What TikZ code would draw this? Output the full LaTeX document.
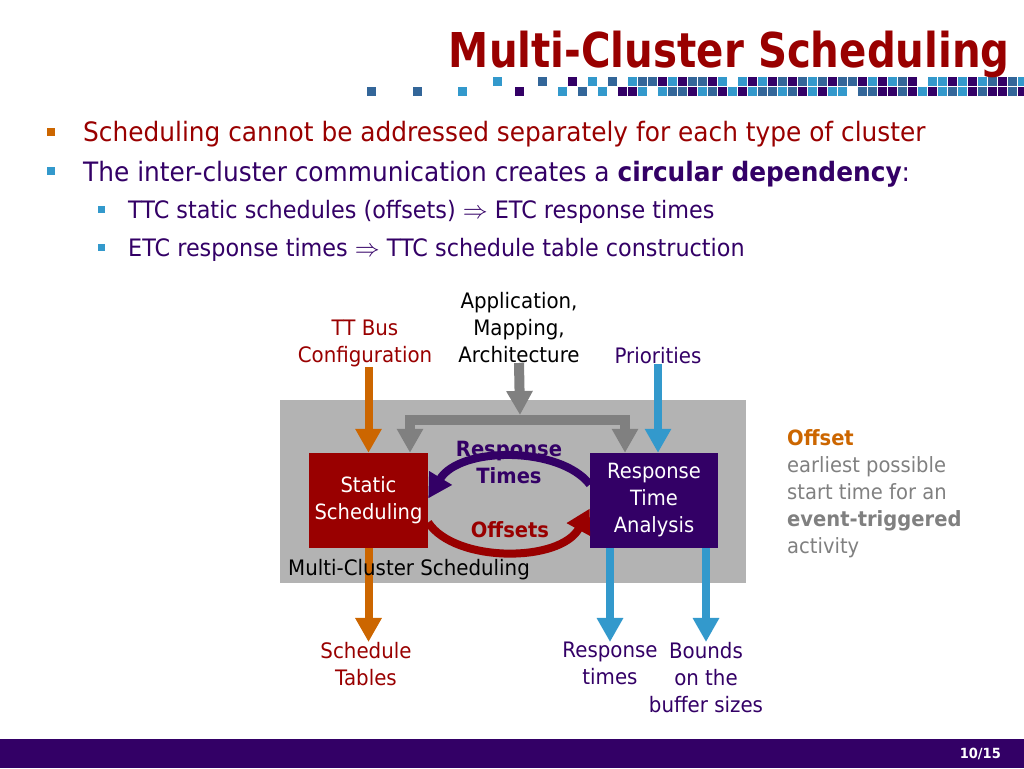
\documentclass[tikz,border=0pt]{standalone}
\usepackage{fontspec}
\setmainfont{DejaVu Sans}[FakeStretch=0.93]
\newfontfamily\titlefont{DejaVu Sans}[FakeStretch=0.84]
\usetikzlibrary{arrows.meta, positioning}

\definecolor{darkred}{HTML}{990000}
\definecolor{deeppurple}{HTML}{330066}
\definecolor{burntorange}{HTML}{CC6600}
\definecolor{skyblue}{HTML}{3399CC}
\definecolor{steelblue}{HTML}{336699}
\definecolor{midgray}{HTML}{808080}
\definecolor{boxgray}{HTML}{B3B3B3}
\colorlet{sq1}{steelblue}
\colorlet{sq2}{skyblue}
\colorlet{sq3}{deeppurple}

\begin{document}
\begin{tikzpicture}[x=1pt,y=1pt,
	fat/.style={line width=8pt,-{Triangle[width=25pt,length=24pt]}},
	block/.style={minimum width=#1,minimum height=95pt,inner sep=0pt,align=center,text=white,font=\fontsize{21}{27}\selectfont},
	lbl/.style={align=center,inner sep=0pt,font=\fontsize{21.3}{27}\selectfont},
	body/.style={anchor=base west,inner sep=0pt,font=\fontsize{26.7}{30}\selectfont},
	sub/.style={anchor=base west,inner sep=0pt,font=\fontsize{24}{28}\selectfont,text=deeppurple},
	loop/.style={inner sep=0pt,align=center,font=\bfseries\fontsize{21}{27}\selectfont}]
	\useasboundingbox (0,0) rectangle (1024,768);

	% title and the row of squares
	\foreach \x/\y/\c in {367/672/1,413/672/1,458/672/2,493/682/2,515/672/3,538/682/1}
		\fill[sq\c] (\x,\y) rectangle +(9,9);
	\foreach \c [count=\j from 0] in {0,3,0,2,0,1,0,2,1,1,3,2,3,1,1,3,2,0,2,3,2,3,1,3,1,2,1,3,1,1,3,2,3,2,1,3,0,2,2,3,2,3,2,1,3,1,2}
		{\ifnum\c>0 \fill[sq\c] (558+10*\j,682) rectangle +(9,9);\fi}
	\foreach \c [count=\j from 0] in {2,0,1,0,2,0,3,3,2,0,2,1,1,3,2,1,3,2,3,2,1,1,2,1,3,2,3,2,2,0,1,1,3,3,1,3,2,3,2,1,2,3,1,3,3,1,3}
		{\ifnum\c>0 \fill[sq\c] (558+10*\j,672) rectangle +(9,9);\fi}
	\node[anchor=base east,inner sep=0pt,text=darkred,font=\titlefont\bfseries\fontsize{48}{50}\selectfont] (title) at (1010,700) {Multi-Cluster Scheduling};

	% bullets
	\fill[burntorange] (47,632) rectangle +(8,8);
	\node[body,text=darkred] (b1) at (83,626) {Scheduling cannot be addressed separately for each type of cluster};
	\fill[skyblue] (47,593) rectangle +(8,8);
	\node[body,text=deeppurple] (b2) at (83,586) {The inter-cluster communication creates a \textbf{circular dependency}:};
	\fill[skyblue] (98,555) rectangle +(7,7);
	\node[sub] (s1) at (128,549) {TTC static schedules (offsets) $\Rightarrow$ ETC response times};
	\fill[skyblue] (98,517) rectangle +(7,7);
	\node[sub] (s2) at (128,511) {ETC response times $\Rightarrow$ TTC schedule table construction};

	% diagram
	\fill[boxgray] (280,185) rectangle (746,368);
	\node[block=119pt,fill=darkred] (static) at (368.5,267.5) {Static\\Scheduling};
	\node[block=128pt,fill=deeppurple] (rta) at (654,267.5) {Response\\Time\\Analysis};

	\node[lbl,text=darkred,anchor=south] (ttbus) at (365,401) {TT Bus\\Configuration};
	\node[lbl,anchor=south] (appl) at (519,405) {Application,\\Mapping,\\Architecture};
	\node[lbl,text=deeppurple,anchor=south] (prio) at (658,404) {Priorities};
	\node[lbl,text=darkred,anchor=north] (sched) at (366,126) {Schedule\\Tables};
	\node[lbl,text=deeppurple,anchor=north] (resp) at (610,126) {Response\\times};
	\node[lbl,text=deeppurple,anchor=north] (bounds) at (706,126) {Bounds\\on the\\buffer sizes};

	\coordinate (bar) at (520,353);
	\coordinate (barL) at (410,348);
	\coordinate (barR) at (625,348);

	\draw[fat,burntorange] (ttbus.south -| static.north) -- (static.north);
	\draw[fat,burntorange] (static.south) -- (static.south |- sched.north);
	\draw[fat,midgray,line width=10pt] (appl.south) -- (bar);
	\draw[midgray,line width=10pt,{Triangle[width=25pt,length=24pt]}-{Triangle[width=25pt,length=24pt]}]
		(barL |- static.north) -- (barL) -- (barR) -- (barR |- rta.north);
	\draw[fat,skyblue] (prio.south) -- (prio.south |- rta.north);
	\draw[fat,skyblue] (rta.south -| resp.north) -- (resp.north);
	\draw[fat,skyblue] (rta.south -| bounds.north) -- (bounds.north);

	\draw[fat,darkred] ([yshift=-22pt]static.east) .. controls (455,205) and (560,205) .. ([yshift=-8pt]rta.west);
	\draw[fat,deeppurple] ([yshift=16pt]rta.west) .. controls (560,322) and (460,322) .. ([yshift=2pt]static.east);
	\node[loop,text=deeppurple] (rtlbl) at (509,305.5) {Response\\Times};
	\node[loop,text=darkred] (offlbl) at (510,238) {Offsets};
	\node[lbl,anchor=base west] (mcs) at (288,192) {Multi-Cluster Scheduling};

	% side note
	\node[anchor=north west,inner sep=0pt,align=left,text=midgray,font=\fontsize{21}{27}\selectfont] (note) at (787,339)
		{\textcolor{burntorange}{\textbf{Offset}}\\earliest possible\\start time for an\\\textbf{event-triggered}\\activity};

	% footer
	\fill[deeppurple] (0,0) rectangle (1024,29);
	\node[anchor=east,inner sep=0pt,text=white,font=\bfseries\fontsize{14}{16}\selectfont] (page) at (1001,14.5) {10/15};
\end{tikzpicture}
\end{document}
